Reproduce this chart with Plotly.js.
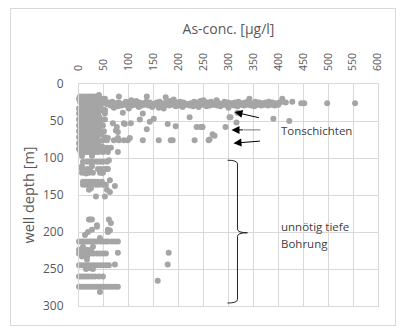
<!DOCTYPE html>
<html>
<head>
<meta charset="utf-8">
<script src="https://cdn.plot.ly/plotly-3.0.1.min.js"></script>
<style>
html,body{margin:0;padding:0;background:#fff;}
#frame{position:absolute;left:10px;top:8px;width:384px;height:316px;border:1px solid #d9d9d9;}
#chart{position:absolute;left:0;top:0;width:406px;height:334px;}
</style>
</head>
<body>
<div id="frame"></div>
<div id="chart"></div>
<script>
// ---- data (As concentration in µg/l vs. well depth in m) ----
// main band of wells around 25-30 m depth
var bandConc = [2,5,8,11,14,17,20,23,26,29,33,37,41,46,50,55,
  60,67,74,80,87,94,101,108,115,121,128,135,142,149,156,162,169,176,183,190,197,203,210,217,224,231,238,244,251,258,265,272,279,285,292,299,306,313,320,326,333,340,347,354,361,367,374,381,388,395,402,408,415,
  63,71,78,85,92,99,106,113,119,126,133,140,147,153,160,167,174,181,188,194,201,208,215,222,229,236,242,249,256,263,270,277,284,290,297,304,311,318,325,331,338,345,352,359,366,372,379,386,393,400,
  40,80,136,174,105,190,250,276,342,408,428,446,452,498,554,120,160,240,300,170,70,100];
var bandDepth = [24,26,23,27,25,28,24,26,29,25,27,24,28,26,25,27,
  25,24,26,25,27,24,25,26,23,25,26,24,25,27,25,24,26,25,23,26,25,24,25,27,26,24,25,23,26,25,24,26,25,27,24,25,26,25,24,26,25,23,26,24,25,26,25,24,25,26,25,24,25,
  29,28,30,29,28,31,29,28,30,29,28,29,31,28,29,30,28,29,28,30,29,31,28,29,30,28,29,28,30,29,28,29,30,28,29,28,29,30,28,29,28,29,30,28,29,28,29,28,29,28,
  15,17,17,18,22,21,22,22,20,20,24,26,26,26,26,31,32,31,32,33,32,33];

// dense cluster of shallow wells (15-100 m)
var shallowConc = [2,8,14,20,26,32, 0,5,11,17,23,29,35,45,52, 0,6,12,18,24,30,36,44,
  3,9,15,21,27,33,42,52, 0,6,12,18,24,30,38,52, 3,9,15,21,27,33,40,
  0,6,12,18,24,30,36,46,52, 3,9,15,21,27,33,42, 0,6,12,18,24,30,36,48,
  3,9,15,21,27,33,40, 0,6,12,18,24,30,38,50, 3,9,15,21,27,33,44,
  0,6,12,18,24,30,36,52, 3,9,15,21,27,33,40, 0,6,12,18,24,30,38,
  3,9,15,21,27,33,46, 0,6,12,18,24,30,40,56, 3,9,15,21,27,33,39,48,58,78, 6,26];
var shallowDepth = [17,17,17,17,17,17, 20,20,20,20,20,20,20,20,20, 33,33,33,33,33,33,33,33,
  36,36,36,36,36,36,36,36, 40,40,40,40,40,40,40,40, 44,44,44,44,44,44,44,
  48,48,48,48,48,48,48,48,48, 52,52,52,52,52,52,52, 56,56,56,56,56,56,56,56,
  60,60,60,60,60,60,60, 64,64,64,64,64,64,64,64, 68,68,68,68,68,68,68,
  72,72,72,72,72,72,72,72, 76,76,76,76,76,76,76, 80,80,80,80,80,80,80,
  84,84,84,84,84,84,84, 88,88,88,88,88,88,88,88, 92,92,92,92,92,92,92,92,92,92, 97,97];

// scattered shallow wells with higher values (clay layers)
var midConc = [52,88,128,122,150,222,304,318,316,68,90,104,142,178,194,236,246,294,
  78,136,74,268,260,232,188,184,160,128,98,90,80,70,56,48,76,92,58,78,102,46,56,64,
  390,422,244,248,302,272,262];
var midDepth = [35,39,40,48,47,45,45,39,52,53,53,53,51,54,57,58,58,58,
  65,61,63,68,76,76,76,76,76,76,76,76,76,76,76,76,58,54,73,73,73,86,86,86,
  47,50,58,58,45,70,75];

// deep wells (100-285 m)
var deepConc = [60, 8,16,22,28,36,42,48,56, 6,26, 6,16,22,38,44,52,56,58, 6,20,28,42,46,48, 14,
  62, 8,14,20,26,32,38,46, 8,14,20,26,34,40,48,54, 72, 24, 20,56, 62, 34,52,
  20,26,60,22, 64, 36, 36, 26,58, 18,58,62, 12, 42,
  0,5,10,16,21,26,31,36,42,47,53,58,66,72,78, 8,28, 0,8,16,24, 78,180,
  0,6,12,18,24,30,36,42,48,54, 6,16, 16, 178,72,
  0,6,12,18,24,30,36,42,48,54,60, 14,28, 16,24,
  0,5,10,15,20,26,32,40,48, 158,
  0,6,12,18,24,30,36,42,48,54,60,66,72,78, 42];
var deepDepth = [103, 105,105,105,105,105,105,105,105, 111,111, 115,115,115,115,115,115,115,115, 120,120,120,120,120,120, 121,
  130, 132,132,132,132,132,132,132, 136,136,136,136,136,136,136,136, 138, 141, 143,143, 146, 152,152,
  183,183,183,183, 188, 191, 193, 197,197, 200,200,198, 204, 208,
  213,213,213,213,213,213,213,213,213,213,213,213,213,213,213, 220,220, 224,224,224,224, 228,228,
  229,229,229,229,229,229,229,229,229,229, 233,233, 237, 244,244,
  245,245,245,245,245,245,245,245,245,245,245, 250,250, 249,249,
  260,260,260,260,260,260,260,260,260, 266,
  274,274,274,274,274,274,274,274,274,274,274,274,274,274, 281];

var xTicks = [0,50,100,150,200,250,300,350,400,450,500,550,600];
var yTicks = [0,50,100,150,200,250,300];

var mk = {color:'#a5a5a5', size:6, line:{width:0}};
function tr(x,y){return {type:'scatter',mode:'markers',x:x,y:y,marker:mk,hoverinfo:'skip',showlegend:false,cliponaxis:false};}
var data = [tr(bandConc,bandDepth), tr(shallowConc,shallowDepth), tr(midConc,midDepth), tr(deepConc,deepDepth)];

var txt = {family:'Open Sans, sans-serif', color:'#404040', size:11.5};
var layout = {
  width:406, height:334,
  margin:{l:79, r:28, t:84, b:28, pad:0},
  paper_bgcolor:'rgba(0,0,0,0)', plot_bgcolor:'rgba(0,0,0,0)',
  font:{family:'Open Sans, sans-serif', color:'#595959'},
  xaxis:{side:'top', range:[0,600], tickvals:xTicks, ticktext:xTicks.map(String), tickangle:-90,
    showgrid:true, gridcolor:'#d9d9d9', gridwidth:1, zeroline:false, showline:true, linecolor:'#d9d9d9', mirror:true,
    ticks:'', tickfont:{size:10.5, color:'#595959'}, ticklabelstandoff:10,
    title:{text:'As-conc. [µg/l]', font:{size:14, color:'#595959'}, standoff:14}},
  yaxis:{range:[300,0], tickvals:yTicks, ticktext:yTicks.map(String),
    showgrid:true, gridcolor:'#d9d9d9', gridwidth:1, zeroline:false, showline:true, linecolor:'#d9d9d9', mirror:true,
    ticks:'', tickfont:{size:12, color:'#595959'}, ticklabelstandoff:12,
    title:{text:'well depth [m]', font:{size:14.5, color:'#595959'}, standoff:4}},
  shapes:[
    {type:'path', xref:'x', yref:'y', path:'M 298 103 Q 318 103 318 108 L 318 196 Q 318 201 338 201 Q 318 201 318 206 L 318 291 Q 318 296 298 296',
     line:{color:'#262626', width:1}},
    {type:'line', xref:'x', yref:'y', x0:330, y0:62, x1:364, y1:62, line:{color:'#8c8c8c', width:1.2}}
  ],
  annotations:[
    {x:312, y:38, ax:364, ay:46, xref:'x', yref:'y', axref:'x', ayref:'y', text:'', showarrow:true, arrowhead:2, arrowsize:1.6, arrowwidth:1, arrowcolor:'#000'},
    {x:306, y:62, ax:332, ay:62, xref:'x', yref:'y', axref:'x', ayref:'y', text:'', showarrow:true, arrowhead:2, arrowsize:1.6, arrowwidth:1, arrowcolor:'#000'},
    {x:310, y:80, ax:366, ay:77, xref:'x', yref:'y', axref:'x', ayref:'y', text:'', showarrow:true, arrowhead:2, arrowsize:1.6, arrowwidth:1, arrowcolor:'#000'},
    {x:402, y:63.5, xref:'x', yref:'y', xanchor:'left', yanchor:'middle', text:'Tonschichten', showarrow:false, font:txt},
    {x:402, y:193, xref:'x', yref:'y', xanchor:'left', yanchor:'middle', text:'unnötig tiefe', showarrow:false, font:txt},
    {x:402, y:215, xref:'x', yref:'y', xanchor:'left', yanchor:'middle', text:'Bohrung', showarrow:false, font:txt}
  ]
};
Plotly.newPlot('chart', data, layout, {displayModeBar:false, staticPlot:true});
</script>
</body>
</html>
